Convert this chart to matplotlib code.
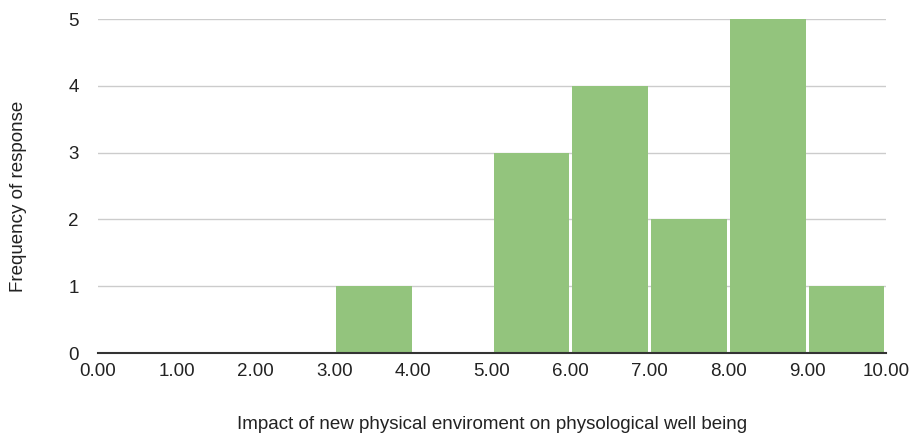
import matplotlib
matplotlib.use('Agg')
import matplotlib.pyplot as plt

bin_edges = [0, 1, 2, 3, 4, 5, 6, 7, 8, 9, 10]
counts = [0, 0, 0, 1, 0, 3, 4, 2, 5, 1]
xticks = [0, 1, 2, 3, 4, 5, 6, 7, 8, 9, 10]
xtick_labels = ['%.2f' % v for v in xticks]
yticks = [0, 1, 2, 3, 4, 5]

plt.rcParams['font.family'] = ['Liberation Sans', 'DejaVu Sans']

fig = plt.figure(figsize=(9.11, 4.34), dpi=100)
ax = fig.add_axes([98 / 911, 81 / 434, 788 / 911, 334 / 434])

lefts = bin_edges[:-1]
for x0, c in zip(lefts, counts):
    if c > 0:
        ax.bar(x0 + 0.5, c, width=0.96, color='#93c47d', edgecolor='none', zorder=2)

ax.set_xlim(0, 10)
ax.set_ylim(0, 5)
ax.set_xticks(xticks)
ax.set_xticklabels(xtick_labels)
ax.set_yticks(yticks)
ax.grid(axis='y', color='#cccccc', linewidth=1, zorder=0)
for s in ['top', 'right', 'left']:
    ax.spines[s].set_visible(False)
ax.spines['bottom'].set_color('#333333')
ax.spines['bottom'].set_linewidth(1.5)
ax.spines['bottom'].set_zorder(3)
ax.tick_params(axis='both', length=0, labelsize=13.5, colors='#222222')
ax.tick_params(axis='x', pad=7)
ax.tick_params(axis='y', pad=14)

ax.set_xlabel('Impact of new physical enviroment on physological well being', fontsize=13.5, color='#222222', labelpad=26)
ax.set_ylabel('Frequency of response', fontsize=13.5, color='#222222')
ax.yaxis.set_label_coords(-0.09, 0.47)

fig.savefig('out.png', dpi=100)
